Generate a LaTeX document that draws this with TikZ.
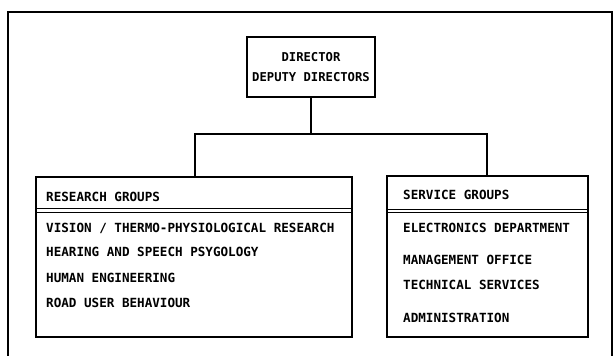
\documentclass[tikz,border=0pt]{standalone}
\usepackage{fontspec}
\newfontfamily\lettering{DejaVu Sans Mono}
\begin{document}
\begin{tikzpicture}[x=1pt,y=-1pt,
  frameline/.style={line width=1.8pt},
  boxline/.style={draw,line width=1.5pt,inner sep=0pt},
  conn/.style={line width=1.5pt},
  sep/.style={line width=1.2pt},
  lbl/.style={anchor=west,inner sep=0pt,font=\lettering\bfseries\fontsize{12.6}{15}\selectfont},
  clbl/.style={anchor=center,inner sep=0pt,font=\lettering\bfseries\fontsize{12.2}{15}\selectfont}]
\useasboundingbox (0,0) rectangle (614,356);
% outer frame
\draw[frameline] (8,356) -- (8,12) -- (612,12) -- (612,356);
% boxes
\node[boxline,minimum width=128pt,minimum height=60pt] (dir) at (311,67) {};
\node[boxline,minimum width=316pt,minimum height=160pt] (res) at (194,257) {};
\node[boxline,minimum width=201pt,minimum height=161pt] (srv) at (487.5,256.5) {};
% header separators (double lines)
\draw[sep] ([yshift=-32pt]res.north west) -- ([yshift=-32pt]res.north east);
\draw[sep] ([yshift=-36pt]res.north west) -- ([yshift=-36pt]res.north east);
\draw[sep] ([yshift=-34pt]srv.north west) -- ([yshift=-34pt]srv.north east);
\draw[sep] ([yshift=-37.5pt]srv.north west) -- ([yshift=-37.5pt]srv.north east);
% texts
\node[clbl] (t1) at (311,57) {DIRECTOR};
\node[clbl] (t2) at (311,77) {DEPUTY DIRECTORS};
\node[lbl] (r0) at (46,197) {RESEARCH GROUPS};
\node[lbl] (r1) at (46,228) {VISION / THERMO-PHYSIOLOGICAL RESEARCH};
\node[lbl] (r2) at (46,252) {HEARING AND SPEECH PSYGOLOGY};
\node[lbl] (r3) at (46,278) {HUMAN ENGINEERING};
\node[lbl] (r4) at (46,303) {ROAD USER BEHAVIOUR};
\node[lbl] (s0) at (403,195) {SERVICE GROUPS};
\node[lbl] (s1) at (403,228) {ELECTRONICS DEPARTMENT};
\node[lbl] (s2) at (403,260) {MANAGEMENT OFFICE};
\node[lbl] (s3) at (403,285) {TECHNICAL SERVICES};
\node[lbl] (s4) at (403,318) {ADMINISTRATION};
% connectors
\coordinate (jl) at (195,134);
\coordinate (jr) at (487,134);
\draw[conn] (dir.south) -- (dir.south |- jl);
\draw[conn] (res.north -| jl) -- (jl) -- (jr) -- (srv.north -| jr);
\end{tikzpicture}
\end{document}
